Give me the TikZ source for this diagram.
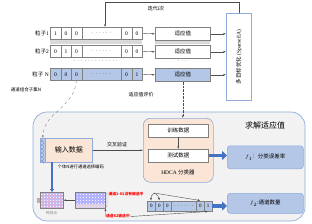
\documentclass[tikz,border=0pt]{standalone}
\usepackage{fontspec}
\setmainfont{Liberation Serif}
\newfontfamily\cjk{Noto Sans CJK SC}
\usetikzlibrary{arrows.meta}
\definecolor{bluefill}{HTML}{B4C7E7}
\definecolor{blueline}{HTML}{8FAADC}
\definecolor{peach}{HTML}{FBE5D6}
\definecolor{greybg}{HTML}{F2F2F2}
\definecolor{bigblue}{HTML}{4472C4}
\definecolor{cellline}{HTML}{808080}
\definecolor{redlbl}{HTML}{FF0000}
\begin{document}
\begin{tikzpicture}[x=1pt,y=-1pt,
  font=\fontsize{5.5}{6}\selectfont,
  cellbox/.style={draw=cellline, line width=0.5pt, fill=white, anchor=north west, inner sep=0pt, minimum height=12pt},
  bluecell/.style={cellbox, fill=bluefill, draw=cellline},
  fitbox/.style={draw=cellline, line width=0.5pt, fill=white, anchor=north west, inner sep=0pt, minimum width=55pt, minimum height=13pt, font=\cjk\fontsize{5.5}{6}\selectfont},
  thinarrow/.style={draw=gray, line width=0.4pt, -{Latex[length=2.5pt,width=2pt]}},
  darkarrow/.style={draw=black!70, line width=0.4pt, -{Latex[length=2.5pt,width=2pt]}},
  fatarrow/.style={draw=bigblue, line width=3.5pt, -{Triangle[length=5pt,width=9pt]}},
  cjklbl/.style={font=\cjk\fontsize{5}{6}\selectfont, inner sep=0.5pt},
  redlbl/.style={font=\cjk\bfseries\fontsize{3.8}{4}\selectfont, text=redlbl, inner sep=0.5pt},
  resbox/.style={draw=blueline, line width=0.6pt, fill=bluefill, rounded corners=3pt, anchor=north west, inner sep=0pt, minimum width=76pt},
  whitebox/.style={draw=cellline, line width=0.5pt, fill=white, anchor=north west, inner sep=0pt, minimum width=60pt, minimum height=12.5pt, font=\cjk\fontsize{5.5}{6}\selectfont}
]
\useasboundingbox (0,0) rectangle (312,223);

% ---------- particle rows ----------
\fill[gray!30] (50,39.5) rectangle (142,43.5);
\fill[gray!30] (155,41) rectangle (210,44);
\foreach \r/\y/\a/\b/\c/\d/\e/\sty in {1/27/1/0/0/0/0/cellbox, 2/45/0/1/0/0/0/cellbox, N/68/0/0/0/0/1/bluecell}{
  \node[\sty, minimum width=10.5pt] (r\r c1) at (50,\y) {\a};
  \node[\sty, minimum width=10.5pt] (r\r c2) at (60.5,\y) {\b};
  \node[\sty, minimum width=10.5pt] (r\r c3) at (71,\y) {\c};
  \node[\sty, minimum width=39.5pt] (r\r c4) at (81.5,\y) {$\cdots\cdots$};
  \node[\sty, minimum width=10.5pt] (r\r c5) at (121,\y) {\d};
  \node[\sty, minimum width=10.5pt] (r\r c6) at (131.5,\y) {\e};
}
\node[anchor=east, inner sep=1pt] (p1) at (r1c1.west) {{\cjk 粒子}1};
\node[anchor=east, inner sep=1pt] (p2) at (r2c1.west) {{\cjk 粒子}2};
\node[anchor=east, inner sep=1pt] (pN) at (rNc1.west) {{\cjk 粒子} N};
\node (rowdots) at (96,61.5) {$\cdots\cdots\cdots\cdots\cdot$};

% fitness boxes
\node[fitbox] (fit1) at (155,27) {适应值};
\node[fitbox] (fit2) at (155,45) {适应值};
\node[fitbox, fill=bluefill, draw=cellline] (fitN) at (155,68) {适应值};
\node (fitdots) at (182.5,61) {$\cdots$};

% multi-objective box
\node[draw=blueline, line width=0.6pt, fill=white, anchor=north west, minimum width=25pt, minimum height=87pt, inner sep=0pt] (mo) at (226,13) {};
\node[rotate=90, font=\fontsize{5.5}{6}\selectfont] (motext) at (mo.center) {{\cjk 多目标优化} (SparseEA)};

\foreach \r in {1,2,N}{
  \draw[darkarrow] (r\r c6.east) -- (fit\r.west);
  \draw[darkarrow] (fit\r.east) -- (fit\r.east -| mo.west);
}

% iteration loop
\coordinate (loopL) at (105,2.5);
\draw[darkarrow] (mo.north) |- (loopL) -- (loopL |- r1c4.north);
\node[cjklbl] (iterlbl) at (156,8.5) {迭代i次};

\node[cjklbl, font=\cjk\fontsize{4.5}{5}\selectfont] (subset) at (26,90) {通道组合子集N};
\node[cjklbl] (evallbl) at (141,95) {适应值评价};

% ---------- bottom panel ----------
\draw[draw=blueline, line width=0.7pt, fill=greybg, rounded corners=14pt] (33,112) rectangle (305,221);

\node[font=\cjk\fontsize{8}{9}\selectfont] (solve) at (265,125) {求解适应值};

% input data
\node[draw=blueline, line width=0.6pt, fill=bluefill, anchor=north west, minimum width=5pt, minimum height=24pt, inner sep=0pt] (strip) at (40,138) {};
\foreach \yy in {140,144,...,160}{ \fill[blueline!80!black, opacity=0.5] (41,\yy) rectangle (42.5,\yy+1.5); \fill[blueline!80!black, opacity=0.5] (42.5,\yy+2) rectangle (44,\yy+3.5);}
\node[draw=blueline, line width=0.6pt, fill=peach, anchor=north west, minimum width=47pt, minimum height=24pt, inner sep=0pt, font=\cjk\fontsize{7}{8}\selectfont] (input) at (45,138) {输入数据};

% HDCA container
\node[draw=blueline, line width=0.6pt, fill=peach, rounded corners=7pt, anchor=north west, minimum width=70pt, minimum height=64pt, inner sep=0pt] (hdca) at (143,118) {};
\node[whitebox] (train) at (148,124) {训练数据};
\node[whitebox] (test) at (148,149) {测试数据};
\draw[darkarrow] (train.south) -- (test.north);
\node (hdcalbl) at (178,172) {HDCA {\cjk 分类器}};

\draw[darkarrow] (input.east) -- (input.east -| hdca.west);
\node[cjklbl] (cvlbl) at (117,145) {交叉验证};

% results
\node[resbox, minimum height=23pt] (f1) at (227,145.5) {$f_1${\cjk ：分类误差率}};
\node[resbox, minimum height=20pt] (f2) at (227,193) {$f_2${\cjk :通道数量}};
\draw[fatarrow] (test.east) -- (test.east -| f1.west);

% dashed and dotted links
\draw[thinarrow, dashed, line width=0.35pt] (rNc3.south) .. controls (74,108) and (44,112) .. (strip.north);
\draw[thinarrow, densely dotted, draw=black!70] (fitN.south) -- (fitN.south |- hdca.north);

% time-point grid
\node[draw=cellline, line width=0.5pt, anchor=north west, minimum width=23pt, minimum height=16pt, inner sep=0pt, fill=blue!4] (grid1) at (40,192) {};
\begin{scope}
\clip (40,192) rectangle (63,208);
\draw[blue!25, line width=0.2pt, step=1.5pt] (40,192) grid (63,208);
\draw[violet!30, line width=0.2pt, step=3pt] (40,192) grid (63,208);
\end{scope}
\draw[draw=cellline, line width=0.5pt] (40,192) rectangle (63,208);
\fill[gray!60] (37,198) rectangle (40,203);
\node[font=\cjk\fontsize{3.8}{4}\selectfont, text=gray] (tlbl) at (51.5,213.5) {时间点};

\node[draw=cellline, line width=0.5pt, anchor=north west, minimum width=30pt, minimum height=16pt, inner sep=0pt, fill=blue!4] (grid2) at (75,192) {};
\begin{scope}
\clip (75,192) rectangle (105,208);
\draw[blue!30, line width=0.2pt, step=1.5pt] (75,192) grid (105,208);
\fill[peach, opacity=0.6] (75,204) rectangle (105,208);
\end{scope}
\draw[draw=cellline, line width=0.5pt] (75,192) rectangle (105,208);
\draw[gray, line width=0.3pt] (105.5,192.5) -- (107,193.5) -- (107,206.5) -- (105.5,207.5);

% encoding arrow
\coordinate (encstart) at (52,162);
\draw[fatarrow, line width=1.4pt, -{Triangle[length=3pt,width=4pt]}] (encstart) -- (encstart |- grid1.north);
\node[cjklbl, anchor=west, font=\cjk\fontsize{4.3}{5}\selectfont] (enclbl) at (57,167) {个体N进行通道选择编码};
\draw[darkarrow] (grid2.west) -- (grid1.east);

% encoded channel vector
\foreach \i/\x/\w/\v in {1/147/8/0, 2/155/8/0, 3/163/8/0, 4/171/25/{$\cdots\cdots$}, 5/196/8/0, 6/204/7.5/1}{
  \node[draw=cellline, line width=0.5pt, fill=bluefill, anchor=north west, inner sep=0pt, minimum width=\w pt, minimum height=10.5pt, font=\fontsize{5}{6}\selectfont] (e\i) at (\x,200.5) {\v};
}
\draw[fatarrow] (e6.east) -- (e6.east -| f2.west);

\node[redlbl] (red1) at (126,194) {通道1-61没有被选中};
\node[redlbl] (red2) at (118,216.5) {通道62被选中};
\coordinate (brk) at (154,193);
\draw[darkarrow] (brk) to[bend right=30] (e1.north);
\draw[darkarrow] (brk) to[bend left=30] (e2.north);
\draw[darkarrow] (brk) -- (e5.north);
\draw[darkarrow] (red2.east) -- (e6.south);
\draw[darkarrow] (red2.west) -- (grid2.south east);
\end{tikzpicture}
\end{document}
